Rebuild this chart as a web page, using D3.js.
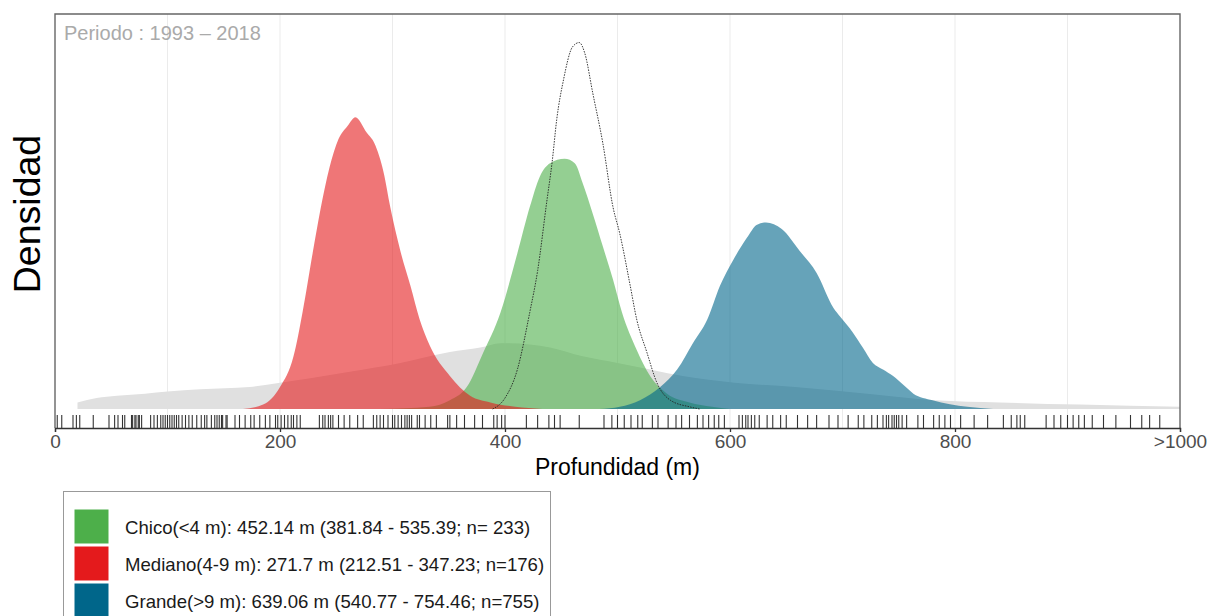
<!DOCTYPE html>
<html>
<head>
<meta charset="utf-8">
<script src="https://cdn.jsdelivr.net/npm/d3@7"></script>
<style>
  html, body { margin: 0; padding: 0; background: #fff; }
  svg { display: block; font-family: "Liberation Sans", Arial, sans-serif; }
</style>
</head>
<body>
<svg id="chart" width="1208" height="616"></svg>
<script>
// Depth (m) samples and kernel density estimates for each boat size class
const chicoDepth   = [289, 333, 351, 366, 380, 396, 411, 422, 431, 440, 453, 462, 469, 478, 487, 496, 504, 517, 529, 544, 564, 584, 600];
const chicoDensity = [0, 0.0001, 0.0004, 0.0010, 0.0025, 0.0044, 0.0071, 0.0092, 0.0106, 0.0112, 0.0114, 0.0112, 0.0103, 0.0089, 0.0074, 0.0059, 0.0044, 0.0027, 0.0015, 0.0007, 0.0003, 0.0001, 0];

const medianoDepth   = [167, 185, 200, 212, 220, 229, 236, 244, 252, 260, 267, 277, 284, 292, 298, 307, 316, 324, 333, 351, 369, 387, 409, 433];
const medianoDensity = [0, 0.0002, 0.0010, 0.0024, 0.0044, 0.0071, 0.0091, 0.0110, 0.0123, 0.0129, 0.0133, 0.0126, 0.0121, 0.0108, 0.0092, 0.0072, 0.0056, 0.0041, 0.0029, 0.0015, 0.0006, 0.0003, 0.0001, 0];

const grandeDepth   = [484, 502, 520, 538, 553, 567, 580, 591, 603, 615, 624, 632, 646, 662, 677, 692, 698, 709, 718, 727, 736, 745, 754, 763, 780, 811, 834];
const grandeDensity = [0, 0.0001, 0.0004, 0.0010, 0.0018, 0.0030, 0.0041, 0.0056, 0.0068, 0.0078, 0.0084, 0.0085, 0.0082, 0.0072, 0.0062, 0.0046, 0.0042, 0.0035, 0.0028, 0.0021, 0.0018, 0.0015, 0.0011, 0.0007, 0.0004, 0.0001, 0];

// All records pooled
const totalDepth   = [20, 37, 55, 80, 100, 129, 173, 200, 227, 262, 307, 351, 378, 396, 404, 440, 469, 500, 529, 558, 604, 658, 722, 782, 840, 911, 1000];
const totalDensity = [0.0003, 0.0005, 0.0006, 0.0007, 0.0008, 0.0009, 0.0010, 0.0012, 0.0014, 0.0017, 0.0021, 0.0026, 0.0028, 0.0030, 0.0030, 0.0028, 0.0024, 0.0021, 0.0018, 0.0015, 0.0012, 0.0010, 0.0007, 0.0004, 0.0003, 0.0002, 0.0001];

// Reference period curve (dotted outline)
const refDepth   = [389, 400, 411, 422, 429, 437, 442, 446, 452, 460, 466, 471, 478, 487, 496, 502, 511, 517, 526, 535, 547, 564, 573];
const refDensity = [0, 0.0005, 0.0018, 0.0044, 0.0063, 0.0094, 0.0113, 0.0132, 0.0150, 0.0165, 0.0167, 0.0162, 0.0144, 0.0121, 0.0092, 0.0080, 0.0057, 0.0041, 0.0026, 0.0012, 0.0004, 0.0001, 0];

// Individual fishing-set depths (m)
const setDepths = [
  2, 6, 16, 19, 22, 34, 48, 53, 56, 60, 62, 68, 69, 71, 72, 74, 75, 77,
  85, 88, 91, 94, 96, 98, 100, 102, 104, 106, 108, 110, 113, 116, 119, 122, 126,
  130, 133, 135, 139, 142, 144, 146, 148, 149, 152, 153, 160, 164, 169, 174,
  177, 182, 187, 191, 196, 198, 201, 204, 207, 210, 212, 215, 218,
  235, 238, 240, 243, 245, 247, 252, 257, 262, 269, 274, 283, 286, 289, 292,
  296, 300, 302, 305, 308, 311, 313, 315, 317, 322, 324, 329, 334, 339, 349,
  351, 357, 364, 373, 380, 390, 393, 397, 400, 419, 429, 439, 444, 449, 466,
  488, 495, 500, 506, 512, 518, 522, 531, 536, 545, 552, 557, 564, 571, 576,
  581, 586, 590, 595, 608, 611, 614, 616, 619, 622, 626, 633, 638, 645, 650,
  660, 669, 677, 688, 696, 705, 714, 719, 726, 731, 736, 739, 741, 744, 746,
  748, 750, 753, 757, 767, 772, 781, 786, 791, 796, 805, 817, 829, 843, 850,
  855, 858, 862, 881, 888, 894, 900, 905, 910, 915, 922, 932, 943, 956, 966,
  973, 982
];

const xTicks = [0, 200, 400, 600, 800, 1000];
const xGrid  = [100, 200, 300, 400, 500, 600, 700, 800, 900];

const legendLabels = [
  "Chico(<4 m): 452.14 m (381.84 - 535.39; n= 233)",
  "Mediano(4-9 m): 271.7 m (212.51 - 347.23; n=176)",
  "Grande(>9 m): 639.06 m (540.77 - 754.46; n=755)"
];
const legendColors = ["#4daf4a", "#e41a1c", "#00668a"];
const periodLabel = "Periodo : 1993 \u2013 2018";

const svg = d3.select("#chart");
const panel = { left: 55, right: 1180, top: 14, bottom: 428 };
const baseline = 409;

const x = d3.scaleLinear().domain([0, 1000]).range([panel.left, panel.right]);
const y = d3.scaleLinear().domain([0, 0.018]).range([baseline, panel.top]);

// vertical grid
svg.append("g").selectAll("line").data(xGrid).join("line")
  .attr("x1", d => x(d)).attr("x2", d => x(d))
  .attr("y1", panel.top).attr("y2", panel.bottom)
  .attr("stroke", "#ebebeb").attr("stroke-width", 1);

const pairs = (xs, ys) => xs.map((d, i) => [d, ys[i]]);
const area = d3.area()
  .x(d => x(d[0])).y0(baseline).y1(d => y(d[1]))
  .curve(d3.curveMonotoneX);
const line = d3.line()
  .x(d => x(d[0])).y(d => y(d[1]))
  .curve(d3.curveMonotoneX);

svg.append("path").datum(pairs(totalDepth, totalDensity))
  .attr("d", area).attr("fill", "#e0e0e0");

const layers = [
  { xs: chicoDepth, ys: chicoDensity, c: legendColors[0] },
  { xs: medianoDepth, ys: medianoDensity, c: legendColors[1] },
  { xs: grandeDepth, ys: grandeDensity, c: legendColors[2] }
];
layers.forEach(l => {
  svg.append("path").datum(pairs(l.xs, l.ys))
    .attr("d", area).attr("fill", l.c).attr("fill-opacity", 0.6);
});

svg.append("path").datum(pairs(refDepth, refDensity))
  .attr("d", line).attr("fill", "none")
  .attr("stroke", "#222").attr("stroke-width", 0.9)
  .attr("stroke-dasharray", "1.5,1.2");

// rug
svg.append("g").selectAll("line").data(setDepths).join("line")
  .attr("x1", d => x(d)).attr("x2", d => x(d))
  .attr("y1", 415).attr("y2", panel.bottom)
  .attr("stroke", "#000").attr("stroke-width", 1.1).attr("stroke-opacity", 0.8);

// panel border
svg.append("path")
  .attr("d", `M${panel.left},${panel.bottom}V${panel.top}H${panel.right}V${panel.bottom}`)
  .attr("fill", "none").attr("stroke", "#666").attr("stroke-width", 1.4);

// x axis
const xAxis = d3.axisBottom(x).tickValues(xTicks)
  .tickFormat(d => d === 1000 ? ">1000" : d)
  .tickSize(4).tickPadding(3);
const gx = svg.append("g").attr("transform", `translate(0,${panel.bottom})`).call(xAxis);
gx.select(".domain").attr("stroke", "#333").attr("stroke-width", 1.3);
gx.selectAll(".tick line").attr("stroke", "#333").attr("stroke-width", 1.3);
gx.selectAll(".tick text").attr("fill", "#4d4d4d")
  .style("font-size", "19px").style("font-family", "Liberation Sans, Arial, sans-serif");

svg.append("text").attr("x", (panel.left + panel.right) / 2).attr("y", 475)
  .attr("text-anchor", "middle").attr("font-size", 23).attr("fill", "#000")
  .text("Profundidad (m)");

svg.append("text")
  .attr("transform", `translate(40,214) rotate(-90)`)
  .attr("text-anchor", "middle").attr("font-size", 37.5).attr("fill", "#000")
  .text("Densidad");

svg.append("text").attr("x", 64).attr("y", 40)
  .attr("font-size", 20).attr("fill", "#aaaaaa")
  .text(periodLabel);

// legend
const lg = svg.append("g");
lg.append("rect").attr("x", 63.5).attr("y", 491.5).attr("width", 487).attr("height", 140)
  .attr("fill", "#fff").attr("stroke", "#999").attr("stroke-width", 1);
legendLabels.forEach((t, i) => {
  const yy = 509 + i * 37;
  lg.append("rect").attr("x", 74).attr("y", yy).attr("width", 35).attr("height", 35)
    .attr("fill", legendColors[i]).attr("stroke", "#fff").attr("stroke-width", 1);
  lg.append("text").attr("x", 125).attr("y", yy + 18).attr("dy", "0.35em")
    .attr("font-size", 18.6).attr("fill", "#1a1a1a").text(t);
});
</script>
</body>
</html>
